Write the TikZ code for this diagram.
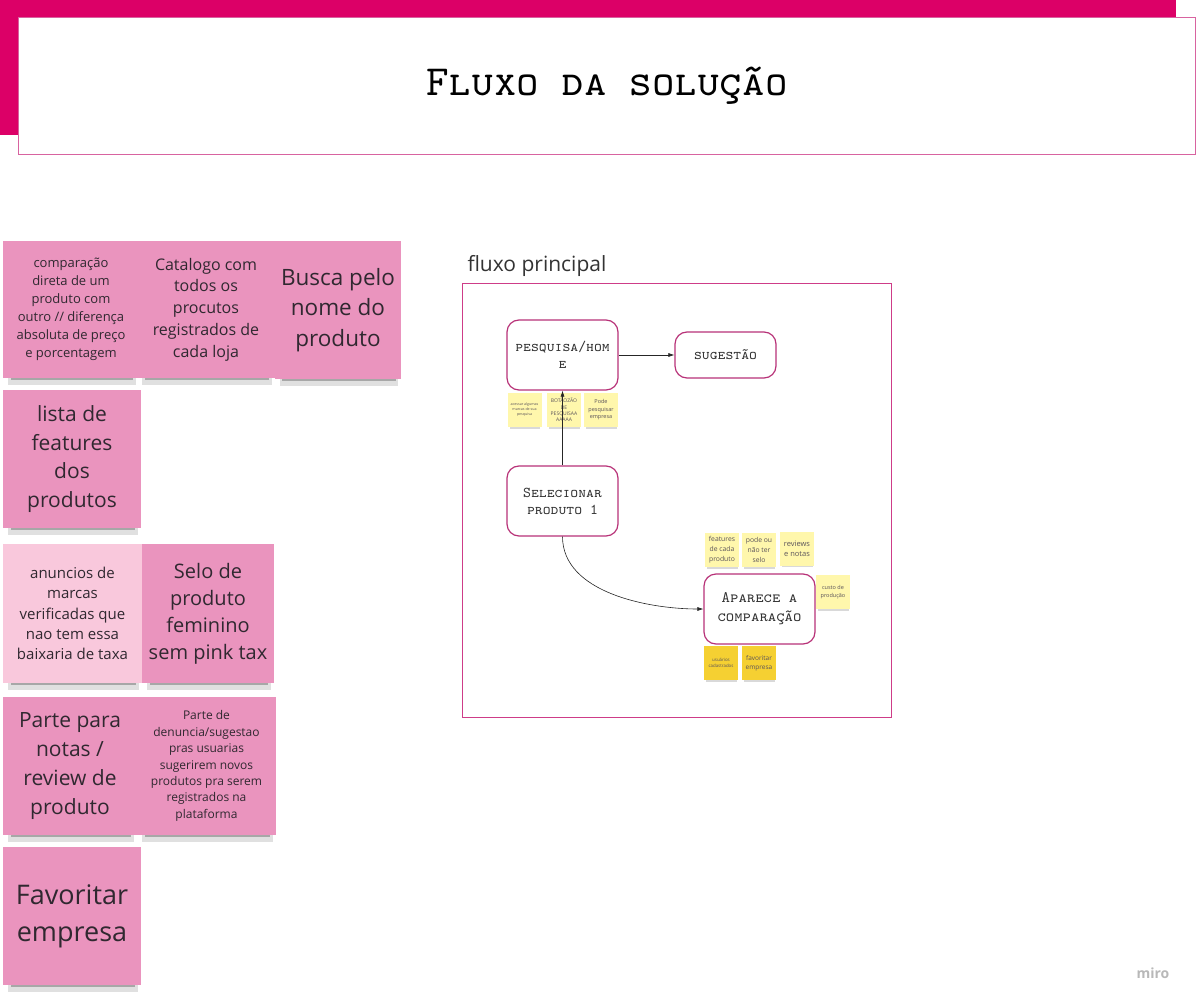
\documentclass[tikz,border=0pt]{standalone}
\usepackage{fontspec}
\newfontfamily\stickyfont{Open Sans}
\usetikzlibrary{arrows.meta, shadows}
\definecolor{mkmagenta}{RGB}{220, 0, 103}
\definecolor{mkframe}{RGB}{206, 60, 136}
\definecolor{mkbox}{RGB}{184, 50, 120}
\definecolor{mkpink}{RGB}{234, 148, 190}
\definecolor{mklight}{RGB}{249, 200, 220}
\definecolor{mkyellow}{RGB}{255, 247, 172}
\definecolor{mkgold}{RGB}{245, 208, 50}
\definecolor{mktext}{RGB}{48, 40, 48}

\begin{document}
\begin{tikzpicture}[x=1pt, y=-1pt, >={Latex[length=6pt, width=4pt]},
  sticky/.style={rectangle, fill=mkpink, inner sep=0pt, align=center,
    text=mktext,
    drop shadow={shadow xshift=1pt, shadow yshift=-12pt, shadow scale=0.94,
      opacity=0.12, fill=black},
    drop shadow={shadow xshift=1pt, shadow yshift=-9.5pt, shadow scale=0.9,
      opacity=0.25, fill=black},
    drop shadow={shadow xshift=1pt, shadow yshift=-8pt, shadow scale=0.84,
      opacity=0.3, fill=black}},
  tinynote/.style={rectangle, fill=mkyellow, inner sep=0pt, align=center,
    minimum width=34pt, minimum height=34pt, text=mktext!80,
    drop shadow={shadow xshift=0.5pt, shadow yshift=-4pt, shadow scale=0.9,
      opacity=0.15, fill=black}},
  flowbox/.style={rectangle, rounded corners=12pt, draw=mkbox, line width=1.2pt,
    fill=white, minimum width=111pt, minimum height=70pt, align=center,
    text=black!80, font=\ttfamily\scshape\fontsize{15}{15}\selectfont},
  flowarrow/.style={->, black!85, line width=0.6pt}]

  \useasboundingbox[fill=white] (0,0) rectangle (1199,1008);

  % --- title banner ---
  \fill[mkmagenta] (0,0) rectangle (1176,135);
  \draw[mkframe!80, line width=1pt, fill=white] (18,18) rectangle (1195,155);
  \node (title) at (607,86)
    {\fontsize{43}{43}\selectfont\ttfamily\scshape Fluxo da solução};

  % --- pink ideas ---
  \node[sticky, minimum width=136pt, minimum height=137pt,
    font=\stickyfont\fontsize{13}{18}\selectfont] (cmp) at (71,309.5)
    {comparação\\direta de um\\produto com\\outro // diferença\\absoluta de preço\\e porcentagem};
  \node[sticky, minimum width=138pt, minimum height=137pt,
    font=\stickyfont\fontsize{16}{21.8}\selectfont] (cat) at (206,309.5)
    {Catalogo com\\todos os\\procutos\\registrados de\\cada loja};
  \node[sticky, minimum width=126pt, minimum height=138pt,
    font=\stickyfont\fontsize{22.5}{30.5}\selectfont] (busca) at (338,310)
    {Busca pelo\\nome do\\produto};
  \node[sticky, minimum width=138pt, minimum height=138pt,
    font=\stickyfont\fontsize{21}{28.7}\selectfont] (lista) at (72,459)
    {lista de\\features\\dos\\produtos};
  \node[sticky, fill=mklight, minimum width=139pt, minimum height=139pt,
    font=\stickyfont\fontsize{15}{20.3}\selectfont] (anun) at (72.5,613.5)
    {anuncios de\\marcas\\verificadas que\\nao tem essa\\baixaria de taxa};
  \node[sticky, minimum width=132pt, minimum height=139pt,
    font=\stickyfont\fontsize{20}{27}\selectfont] (selo) at (208,613.5)
    {Selo de\\produto\\feminino\\sem pink tax};
  \node[sticky, minimum width=134pt, minimum height=138pt,
    font=\stickyfont\fontsize{21}{28.7}\selectfont] (notas) at (70,766)
    {Parte para\\notas /\\review de\\produto};
  \node[sticky, minimum width=139pt, minimum height=138pt,
    font=\stickyfont\fontsize{12}{16.4}\selectfont] (denun) at (206.5,766)
    {Parte de\\denuncia/sugestao\\pras usuarias\\sugerirem novos\\produtos pra serem\\registrados na\\plataforma};
  \node[sticky, minimum width=138pt, minimum height=138pt,
    font=\stickyfont\fontsize{27}{37}\selectfont] (fav) at (72,916)
    {Favoritar\\empresa};

  % --- main flow frame ---
  \node[draw=mkframe, line width=1pt, minimum width=429pt, minimum height=433pt,
    inner sep=0pt] (flowframe) at (676.5,500.5) {};
  \node[anchor=base west, font=\stickyfont\fontsize{21}{25}\selectfont, text=black!80]
    (flowlabel) at (464,272) {fluxo principal};

  % --- flow steps ---
  \node[flowbox] (pesq) at (562.5,355) {pesquisa/hom\\[2pt]e};
  \node[flowbox, minimum width=101pt, minimum height=46pt] (sug) at (725.5,355) {sugestão};
  \node[flowbox] (sel) at (562.5,501) {Selecionar\\[2pt]produto 1};
  \node[flowbox, font=\ttfamily\scshape\fontsize{16}{16}\selectfont] (comp) at (759.5,609)
    {Aparece a\\[3pt]comparação};

  % --- small notes round the steps ---
  \node[tinynote, font=\stickyfont\fontsize{3.6}{5}\selectfont] (n1) at (524.5,410)
    {acessar algumas\\marcas de sua\\pesquisa};
  \node[tinynote, font=\stickyfont\fontsize{5}{6.2}\selectfont] (n2) at (564,410)
    {BOTÃOZÃO\\DE\\PESQUISAA\\AAAAA};
  \node[tinynote, font=\stickyfont\fontsize{5.5}{7.5}\selectfont] (n3) at (601,410)
    {Pode\\pesquisar\\empresa};
  \node[tinynote, font=\stickyfont\fontsize{6.8}{10}\selectfont] (n4) at (722,550)
    {features\\de cada\\produto};
  \node[tinynote, font=\stickyfont\fontsize{6.8}{10}\selectfont] (n5) at (759,550)
    {pode ou\\não ter\\selo};
  \node[tinynote, font=\stickyfont\fontsize{7.5}{10}\selectfont] (n6) at (797,548.5)
    {reviews\\e notas};
  \node[tinynote, font=\stickyfont\fontsize{5.5}{8.5}\selectfont] (n7) at (833,592)
    {custo de\\produção};
  \node[tinynote, fill=mkgold, font=\stickyfont\fontsize{4.4}{6}\selectfont] (n8) at (721,663)
    {usuários\\cadastrados};
  \node[tinynote, fill=mkgold, font=\stickyfont\fontsize{6.5}{9}\selectfont] (n9) at (759,663)
    {favoritar\\empresa};

  % --- connectors ---
  \draw[flowarrow] (pesq) -- (sug);
  \draw[flowarrow] (sel) -- (pesq);
  \draw[flowarrow] (sel.south) to[out=-90, in=180, looseness=0.9] (comp.west);

  % --- watermark ---
  \node[font=\stickyfont\bfseries\fontsize{14}{14}\selectfont, text=black!28]
    (miro) at (1153,973) {miro};

\end{tikzpicture}
\end{document}
